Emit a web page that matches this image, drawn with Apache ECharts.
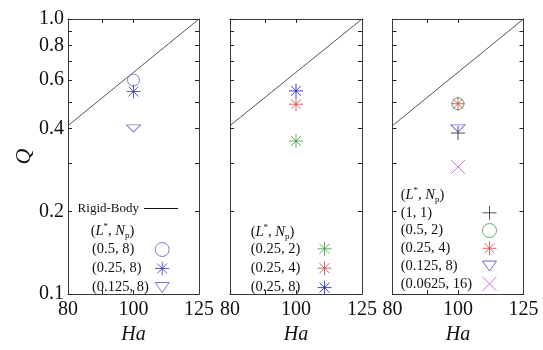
<!DOCTYPE html>
<html>
<head>
<meta charset="utf-8">
<script src="https://cdn.jsdelivr.net/npm/echarts@6/dist/echarts.min.js"></script>
<style>
html,body{margin:0;padding:0;background:#fff;}
#c{width:543px;height:350px;}
</style>
</head>
<body>
<div id="c"></div>
<script>
// ---- data ----
const rigidHa = [80, 125];
const rigidQ = [0.4096, 1.0];

const p1Names = ['(0.5, 8)', '(0.25, 8)', '(0.125, 8)'];
const p1Ha = [100, 100, 100];
const p1Q = [0.60, 0.545, 0.40];

const p2Names = ['(0.25, 2)', '(0.25, 4)', '(0.25, 8)'];
const p2Ha = [100, 100, 100];
const p2Q = [0.36, 0.49, 0.548];

const p3Names = ['(1, 1)', '(0.5, 2)', '(0.25, 4)', '(0.125, 8)', '(0.0625, 16)'];
const p3Ha = [100, 100, 100, 100, 100];
const p3Q = [0.385, 0.492, 0.492, 0.40, 0.29];

const xLabelVals = [80, 100, 125];
const xTickVals = [90, 100];
const yLabelVals = [0.1, 0.2, 0.4, 0.6, 0.8, 1.0];
const yTickVals = [0.1, 0.2, 0.3, 0.4, 0.5, 0.6, 0.7, 0.8, 0.9, 1.0];

// ---- styles ----
const SERIF = 'Liberation Serif, DejaVu Serif, serif';
const STAR = 'path://M7,0L7,14M0,7L14,7M2.05,2.05L11.95,11.95M2.05,11.95L11.95,2.05';
const PLUS = 'path://M7,0L7,14M0,7L14,7';
const CROSS = 'path://M0,0L14,14M0,14L14,0';
const TRI = 'path://M0,0L14,0L7,10Z';
const p1Sym = ['circle', STAR, TRI];
const p1Col = ['#5a5ad2', '#3535c0', '#5a5ad2'];
const p2Sym = [STAR, STAR, STAR];
const p2Col = ['#3a9a3a', '#c44848', '#1818c8'];
const p3Sym = [PLUS, 'circle', STAR, TRI, CROSS];
const p3Col = ['#222222', '#3a9a3a', '#c44848', '#4848c4', '#c050e6'];

const gridLefts = [68, 230, 392.5];
const gridWidths = [131, 132, 131];

const chart = echarts.init(document.getElementById('c'), null, {renderer: 'canvas'});

const grids = gridLefts.map((l, i) => ({left: l, top: 19, width: gridWidths[i], height: 285, containLabel: false}));

const xAxes = [], yAxes = [];
for (let g = 0; g < 3; g++) {
  for (const top of [false, true]) {
    xAxes.push({
      type: 'log', logBase: 10, gridIndex: g, min: 80, max: 125,
      position: top ? 'top' : 'bottom',
      axisLine: {show: true, onZero: false, lineStyle: {color: '#3a3a3a', width: 1}},
      axisTick: {show: true, inside: true, length: 4, customValues: xTickVals, lineStyle: {color: '#222', width: 1}},
      axisLabel: {show: !top, customValues: xLabelVals, fontFamily: SERIF, fontSize: 20, color: '#111', margin: 6,
        formatter: v => String(Math.round(v))},
      splitLine: {show: false},
      name: top ? '' : 'Ha', nameLocation: 'middle', nameGap: 28,
      nameTextStyle: {fontFamily: SERIF, fontStyle: 'italic', fontSize: 20, color: '#111'}
    });
  }
  for (const right of [false, true]) {
    yAxes.push({
      type: 'log', logBase: 10, gridIndex: g, min: 0.1, max: 1.0,
      position: right ? 'right' : 'left',
      axisLine: {show: true, onZero: false, lineStyle: {color: '#3a3a3a', width: 1}},
      axisTick: {show: true, inside: true, length: 4, customValues: yTickVals, lineStyle: {color: '#222', width: 1}},
      axisLabel: {show: (g === 0 && !right), customValues: yLabelVals, fontFamily: SERIF, fontSize: 20, color: '#111', margin: 4,
        formatter: v => Number(v).toFixed(1)},
      splitLine: {show: false},
      name: (g === 0 && !right) ? 'Q' : '', nameLocation: 'middle', nameGap: 31, nameRotate: 90,
      nameTextStyle: {fontFamily: SERIF, fontStyle: 'italic', fontSize: 22, color: '#111'}
    });
  }
}

const series = [];
const rigidNames = ['Rigid-Body', 'rb2', 'rb3'];
for (let g = 0; g < 3; g++) {
  series.push({
    name: rigidNames[g], type: 'line', xAxisIndex: 2 * g, yAxisIndex: 2 * g,
    data: rigidHa.map((h, i) => [h, rigidQ[i]]),
    symbol: 'none', lineStyle: {color: '#555', width: 1}, itemStyle: {color: '#111'}, z: 1, silent: true
  });
}
function addScatter(g, names, ha, q, syms, cols) {
  names.forEach((n, i) => {
    const tri = syms[i] === TRI;
    series.push({
      name: (g + 1) + ':' + n, type: 'scatter', xAxisIndex: 2 * g, yAxisIndex: 2 * g,
      data: [[ha[i], q[i]]],
      symbol: syms[i], symbolSize: tri ? [14, 10] : (syms[i] === 'circle' ? 12 : 14),
      symbolKeepAspect: true,
      itemStyle: {color: 'transparent', borderColor: cols[i], borderWidth: 1},
      z: 3, silent: true
    });
  });
}
addScatter(0, p1Names, p1Ha, p1Q, p1Sym, p1Col);
addScatter(1, p2Names, p2Ha, p2Q, p2Sym, p2Col);
addScatter(2, p3Names, p3Ha, p3Q, p3Sym, p3Col);

function mkLegend(g, names, left, top, W, gap) {
  return {
    orient: 'vertical', left: left, top: top, padding: 0, itemGap: gap,
    itemWidth: 14, itemHeight: 14, align: 'right', selectedMode: false,
    itemStyle: {borderWidth: 1},
    data: names.map(n => (g + 1) + ':' + n),
    formatter: n => '{t|' + n.slice(2) + '}',
    textStyle: {fontFamily: SERIF, fontSize: 14.5, color: '#111',
      rich: {t: {width: W, align: 'left', fontFamily: SERIF, fontSize: 14.5, color: '#111', lineHeight: 16}}}
  };
}

const legends = [
  {orient: 'vertical', right: 365, top: 200.5, padding: 0, itemWidth: 34, itemHeight: 1, align: 'right',
   selectedMode: false, data: [{name: 'Rigid-Body', icon: 'rect'}],
   itemStyle: {color: '#111', borderWidth: 0},
   textStyle: {fontFamily: SERIF, fontSize: 13, color: '#111', lineHeight: 16}},
  mkLegend(0, p1Names, 92, 242, 58.2, 4),
  mkLegend(1, p2Names, 250.7, 241.3, 61.8, 4.4),
  mkLegend(2, p3Names, 400.7, 205.3, 76.8, 2.75)
];

const hdrText = '(' + '{i|L}{sup|*}, {i|N}{sub|p})';
const hdrRich = {
  i: {fontStyle: 'italic', fontFamily: SERIF, fontSize: 14.5, lineHeight: 18, fill: '#111'},
  sup: {fontFamily: SERIF, fontSize: 9, lineHeight: 10, verticalAlign: 'top', fill: '#111'},
  sub: {fontFamily: SERIF, fontSize: 9, lineHeight: 10, verticalAlign: 'bottom', fill: '#111'}
};
function hdr(left, cy) {
  return {type: 'text', left: left, top: cy - 9, silent: true,
    style: {text: hdrText, rich: hdrRich, fontFamily: SERIF, fontSize: 14.5, lineHeight: 18, fill: '#111'}};
}

chart.setOption({
  animation: false,
  backgroundColor: '#fff',
  grid: grids,
  xAxis: xAxes,
  yAxis: yAxes,
  legend: legends,
  series: series,
  graphic: [hdr(90.7, 231), hdr(250.7, 232), hdr(400.7, 195)]
});
</script>
</body>
</html>
